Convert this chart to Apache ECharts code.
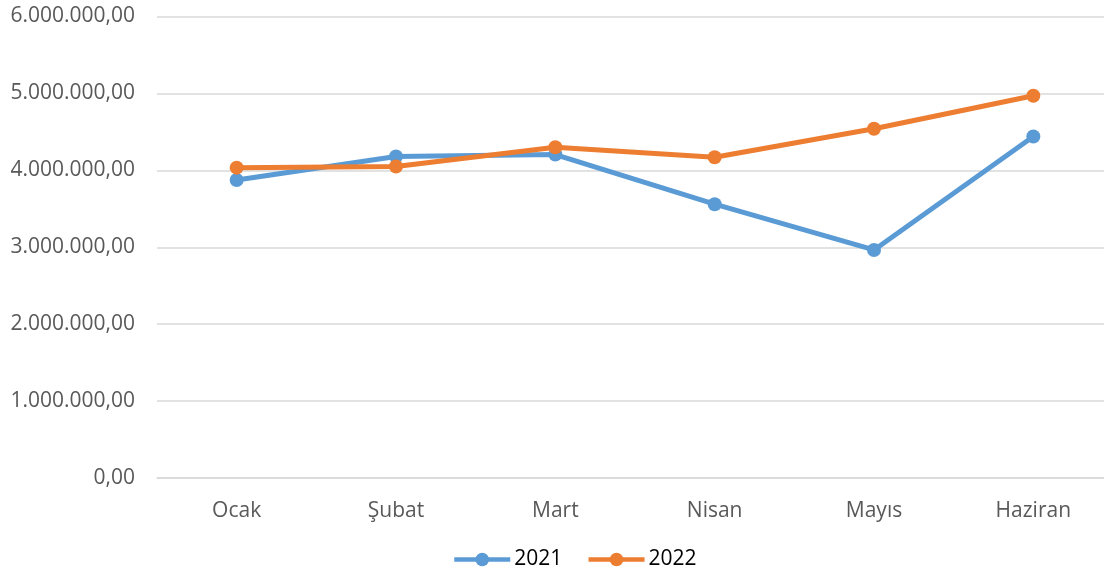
<!DOCTYPE html>
<html>
<head>
<meta charset="utf-8">
<script src="https://cdn.jsdelivr.net/npm/echarts@6/dist/echarts.min.js"></script>
<style>
  html, body { margin: 0; padding: 0; background: #fff; }
  #chart { width: 1104px; height: 575px; }
</style>
</head>
<body>
<div id="chart"></div>
<script>
// months and monthly totals
const months = ['Ocak', 'Şubat', 'Mart', 'Nisan', 'Mayıs', 'Haziran'];
const values2021 = [3875000, 4180000, 4205000, 3560000, 2965000, 4440000];
const values2022 = [4035000, 4050000, 4300000, 4170000, 4540000, 4970000];
const yTicks = [0, 1000000, 2000000, 3000000, 4000000, 5000000, 6000000];

// turkish style number: 1.000.000,00
function trFormat(v) {
  const parts = Number(v).toFixed(2).split('.');
  const intPart = parts[0].replace(/\B(?=(\d{3})+(?!\d))/g, '.');
  return intPart + ',' + parts[1];
}

const chart = echarts.init(document.getElementById('chart'));
const font = 'Open Sans, Noto Sans, sans-serif';

const option = {
  animation: false,
  textStyle: { fontFamily: font },
  grid: { left: 157, top: 16.5, width: 956, height: 461.5, outerBoundsMode: 'none', containLabel: false },
  legend: {
    top: 549,
    left: 452,
    padding: 0,
    itemWidth: 56,
    itemHeight: 17,
    itemGap: 24,
    lineStyle: { width: 4.5 },
    textStyle: { fontSize: 21, color: '#000', fontFamily: font, padding: [0, 0, 0, -1] },
    data: ['2021', '2022']
  },
  xAxis: {
    type: 'category',
    data: months,
    axisTick: { show: false },
    axisLine: { lineStyle: { color: '#d9d9d9', width: 1.5 } },
    axisLabel: { color: '#595959', fontSize: 21, margin: 23, fontFamily: font }
  },
  yAxis: {
    type: 'value',
    min: yTicks[0],
    max: yTicks[yTicks.length - 1],
    interval: 1000000,
    axisLine: { show: false },
    axisTick: { show: false },
    splitLine: { lineStyle: { color: '#d9d9d9', width: 1.5 } },
    axisLabel: { color: '#595959', fontSize: 21, margin: 22, fontFamily: font, formatter: trFormat }
  },
  series: [
    {
      name: '2021',
      type: 'line',
      data: values2021,
      symbol: 'circle',
      symbolSize: 14,
      itemStyle: { color: '#5b9bd5' },
      lineStyle: { color: '#5b9bd5', width: 5 }
    },
    {
      name: '2022',
      type: 'line',
      data: values2022,
      symbol: 'circle',
      symbolSize: 14,
      itemStyle: { color: '#ed7d31' },
      lineStyle: { color: '#ed7d31', width: 5 }
    }
  ]
};

chart.setOption(option);
</script>
</body>
</html>
